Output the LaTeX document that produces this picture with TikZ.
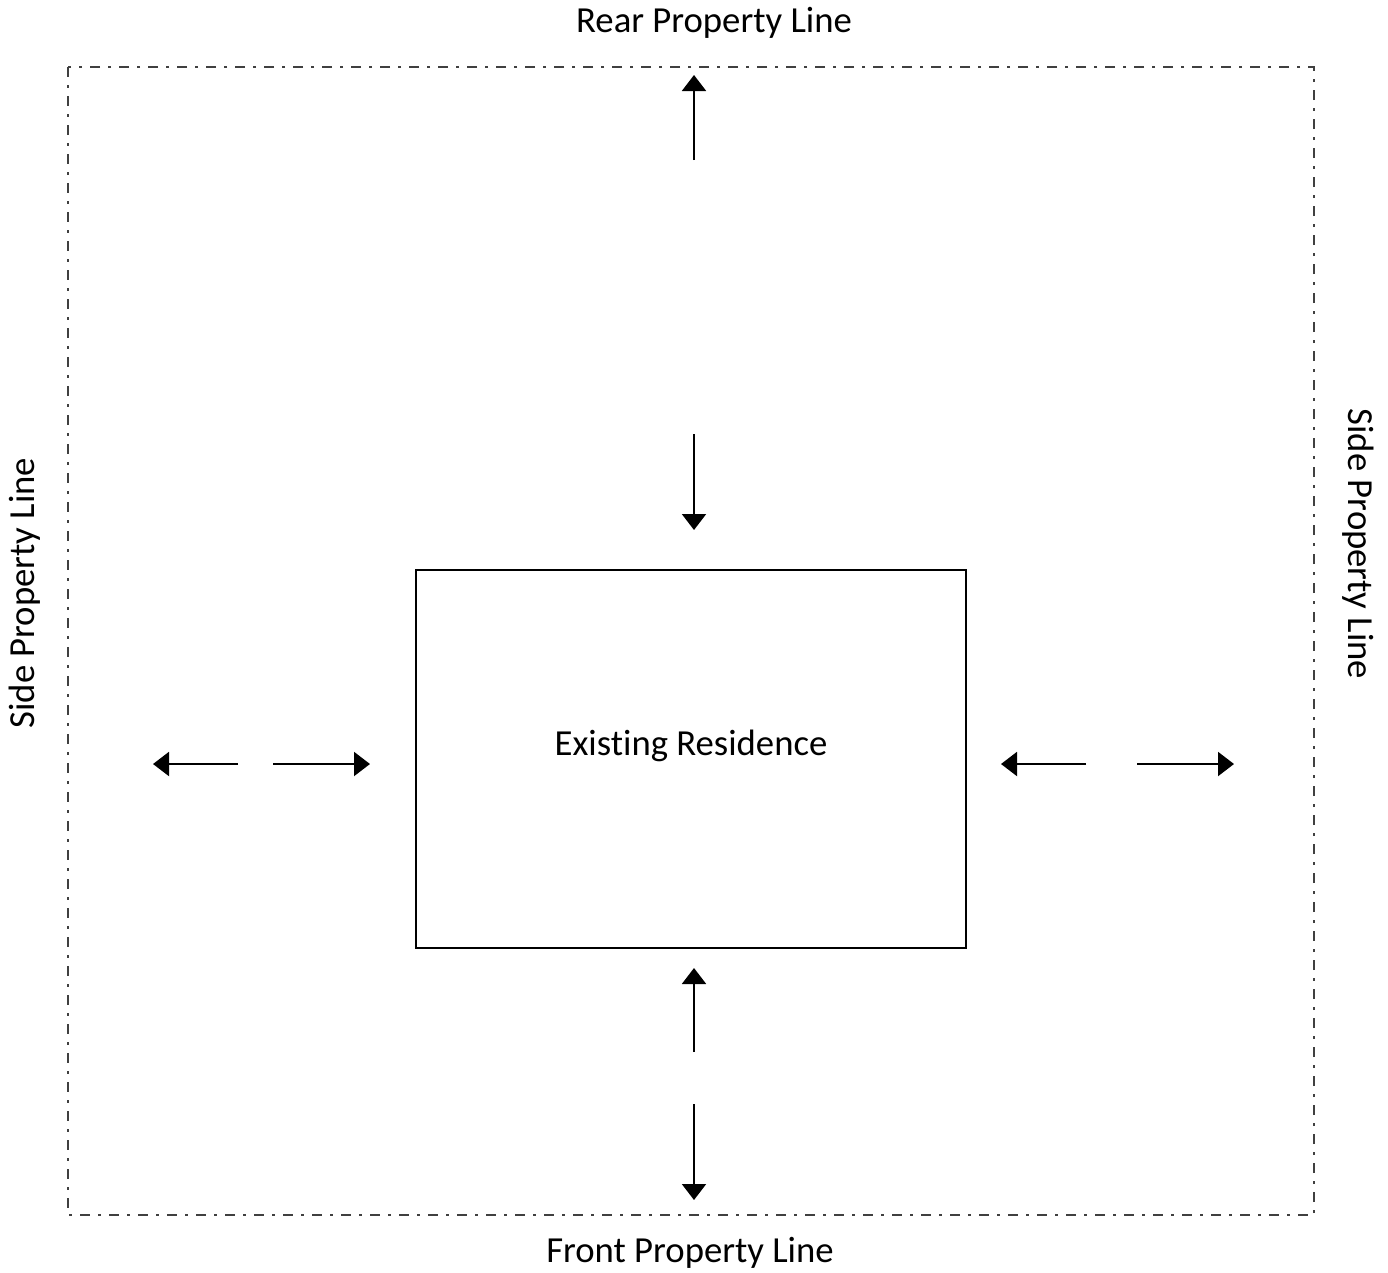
\documentclass[tikz,border=0pt]{standalone}
\usepackage{fontspec}
\setmainfont{Carlito}[RawFeature={-liga;-dlig;-clig;-calt}]
\usetikzlibrary{arrows.meta}
\begin{document}
\begin{tikzpicture}[x=1pt,y=-1pt,
  propline/.style={draw=black!75, line width=2.2pt, dash pattern=on 10pt off 8pt on 3pt off 8pt},
  arr/.style={draw=black, line width=2pt, -{Triangle[length=16pt,width=24pt]}},
  lbl/.style={font=\fontsize{36.7}{44}\selectfont, inner sep=0pt},
  house/.style={draw=black, line width=2.2pt, minimum width=550pt, minimum height=378pt, inner sep=0pt}]
\useasboundingbox (0,0) rectangle (1388,1272);
\coordinate (tl) at (68,67);
\coordinate (br) at (1314,1215);
\draw[propline] (tl) rectangle (br);
\node[lbl] (rear) at (714,23) {Rear Property Line};
\node[lbl] (front) at (690,1253) {Front Property Line};
\node[lbl, rotate=90] (lside) at (25,593) {Side Property Line};
\node[lbl, rotate=-90] (rside) at (1358,544) {Side Property Line};
\node[house] (res) at (691,759) {};
\node[lbl] (restext) at (691,746) {Exist\kern0pt ing Residence};
% arrow coordinates
\coordinate (a1s) at (694,160); \coordinate (a1e) at (694,75);
\coordinate (a2s) at (694,434); \coordinate (a2e) at (694,530);
\coordinate (a3s) at (694,1052); \coordinate (a3e) at (694,968);
\coordinate (a4s) at (694,1104); \coordinate (a4e) at (694,1200);
\coordinate (a5s) at (238,764); \coordinate (a5e) at (153,764);
\coordinate (a6s) at (273,764); \coordinate (a6e) at (370,764);
\coordinate (a7s) at (1086,764); \coordinate (a7e) at (1001,764);
\coordinate (a8s) at (1137,764); \coordinate (a8e) at (1234,764);
\draw[arr] (a1s) -- (a1e);
\draw[arr] (a2s) -- (a2e);
\draw[arr] (a3s) -- (a3e);
\draw[arr] (a4s) -- (a4e);
\draw[arr] (a5s) -- (a5e);
\draw[arr] (a6s) -- (a6e);
\draw[arr] (a7s) -- (a7e);
\draw[arr] (a8s) -- (a8e);
\end{tikzpicture}
\end{document}
